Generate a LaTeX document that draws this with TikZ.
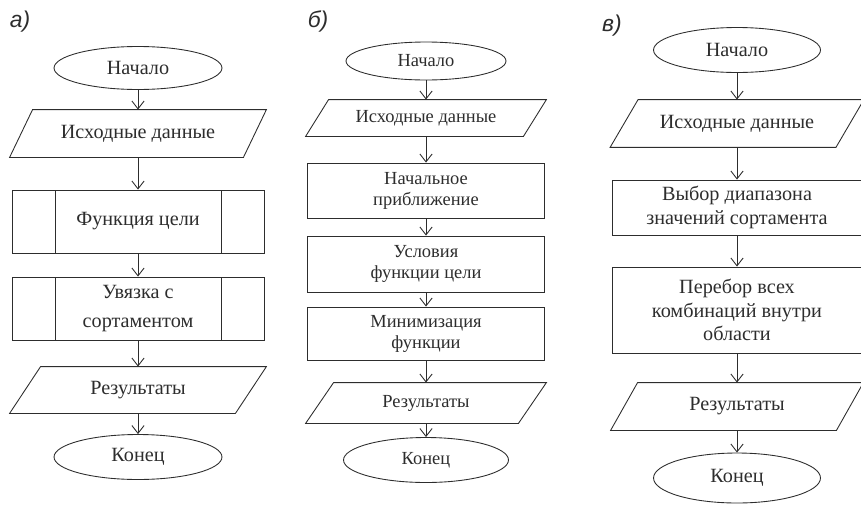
\documentclass[tikz,border=0pt]{standalone}
\usepackage{fontspec}
\setmainfont{Liberation Serif}
\newfontfamily\panelfont{Liberation Sans}
\usetikzlibrary{shapes.geometric, arrows.meta}
\definecolor{ink}{RGB}{45,45,45}
\tikzset{
  terminal/.style={draw=ink, ellipse, inner sep=0pt},
  io/.style={rectangle, inner sep=0pt, align=center},
  process/.style={draw=ink, rectangle, inner sep=0pt, align=center},
  subproc/.style={process, path picture={
      \draw[ink] ([xshift=#1]path picture bounding box.north west) -- ([xshift=#1]path picture bounding box.south west)
                 ([xshift=-#1]path picture bounding box.north east) -- ([xshift=-#1]path picture bounding box.south east);}},
  subproc/.default=0.86cm,
  flow/.style={draw=ink, line width=0.5pt, -{Straight Barb[length=4.5pt,width=7pt]}},
  panel/.style={font=\panelfont\itshape\fontsize{13}{13}\selectfont, text=ink},
  fa/.style={font=\fontsize{11.5}{17}\selectfont, text=ink},
  fb/.style={font=\fontsize{10.5}{12}\selectfont, text=ink},
  fc/.style={font=\fontsize{11.5}{13.5}\selectfont, text=ink}
}
% parallelogram round an io node: name, slant
\newcommand\ioframe[2]{%
  \draw[ink] ([xshift=#2]#1.north west) -- (#1.north east) -- ([xshift=-#2]#1.south east) -- (#1.south west) -- cycle;}

\begin{document}
\begin{tikzpicture}[x=0.02cm, y=-0.02cm, line width=0.5pt]
  \useasboundingbox (0,0) rectangle (861,504);

  % column a
  \node[panel] (labA) at (20,22) {а)};
  \node[terminal, fa, minimum width=3.36cm, minimum height=0.86cm] (startA) at (138,68) {Начало};
  \node[io, fa, minimum width=5.12cm, minimum height=0.94cm] (inA) at (138,133.5) {Исходные данные};
  \node[subproc, fa, minimum width=5.04cm, minimum height=1.26cm] (goalA) at (138,221.5) {Функция цели};
  \node[subproc, fa, minimum width=5.04cm, minimum height=1.26cm] (linkA) at (138,308.5) {Увязка с\\сортаментом};
  \node[io, fa, minimum width=5.12cm, minimum height=0.92cm] (outA) at (138,390) {Результаты};
  \node[terminal, fa, minimum width=3.36cm, minimum height=0.9cm] (endA) at (138,457) {Конец};
  \ioframe{inA}{0.46cm}
  \ioframe{outA}{0.62cm}
  \foreach \u/\v in {startA/inA, inA/goalA, goalA/linkA, linkA/outA, outA/endA}
    \draw[flow] (\u) -- (\v);

  % column b
  \node[panel] (labB) at (318,21) {б)};
  \node[terminal, fb, minimum width=3.2cm, minimum height=0.76cm] (startB) at (426,61) {Начало};
  \node[io, fb, minimum width=4.8cm, minimum height=0.72cm] (inB) at (426,118) {Исходные данные};
  \node[process, fb, minimum width=4.74cm, minimum height=1.1cm] (initB) at (426,190.5) {Начальное\\приближение};
  \node[process, fb, minimum width=4.74cm, minimum height=1.12cm] (condB) at (426,264) {Условия\\функции цели};
  \node[process, fb, minimum width=4.74cm, minimum height=1.06cm] (minB) at (426,333.5) {Минимизация\\функции};
  \node[io, fb, minimum width=4.8cm, minimum height=0.8cm] (outB) at (426,403) {Результаты};
  \node[terminal, fb, minimum width=3.3cm, minimum height=0.9cm] (endB) at (426,460) {Конец};
  \ioframe{inB}{0.46cm}
  \ioframe{outB}{0.56cm}
  \foreach \u/\v in {startB/inB, inB/initB, initB/condB, condB/minB, minB/outB, outB/endB}
    \draw[flow] (\u) -- (\v);

  % column c
  \node[panel] (labC) at (612,26) {в)};
  \node[terminal, fc, minimum width=3.34cm, minimum height=0.9cm] (startC) at (737,50) {Начало};
  \node[io, fc, minimum width=5.06cm, minimum height=0.94cm] (inC) at (737,123.5) {Исходные данные};
  \node[process, fc, minimum width=5cm, minimum height=1.1cm] (rangeC) at (737,207.5) {Выбор диапазона\\значений сортамента};
  \node[process, fc, minimum width=5cm, minimum height=1.72cm] (enumC) at (737,310) {Перебор всех\\комбинаций внутри\\области};
  \node[io, fc, minimum width=5.04cm, minimum height=0.94cm] (outC) at (737,406.5) {Результаты};
  \node[terminal, fc, minimum width=3.34cm, minimum height=1cm] (endC) at (737,478) {Конец};
  \ioframe{inC}{0.56cm}
  \ioframe{outC}{0.54cm}
  \foreach \u/\v in {startC/inC, inC/rangeC, rangeC/enumC, enumC/outC, outC/endC}
    \draw[flow] (\u) -- (\v);
\end{tikzpicture}
\end{document}
